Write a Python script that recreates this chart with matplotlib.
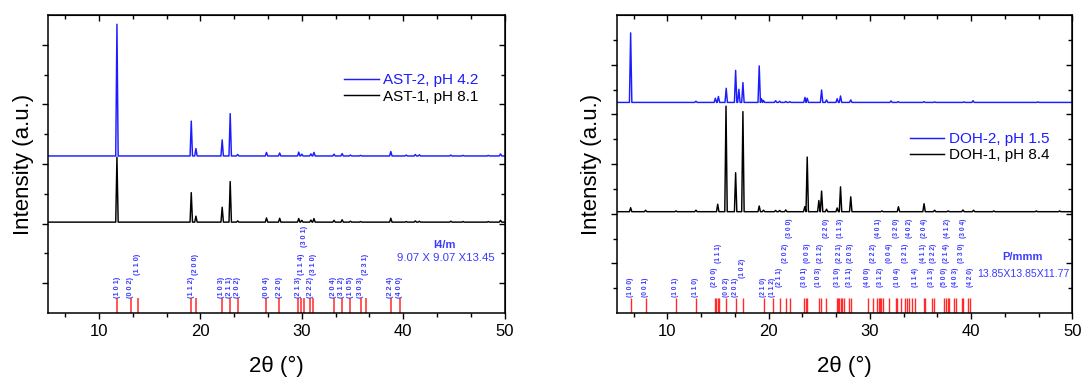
import matplotlib
matplotlib.use("Agg")
import matplotlib.pyplot as plt
from matplotlib.ticker import AutoMinorLocator, FixedLocator

plt.rcParams['font.family'] = ['Liberation Sans', 'DejaVu Sans']

# ---- left panel: AST ----
ast_pos = [11.77, 19.10, 19.56, 22.15, 22.94, 23.68, 26.52, 27.82, 29.70, 30.00, 30.90, 31.20,
           33.18, 33.98, 34.80, 35.80, 38.78, 40.30, 41.20, 41.60, 44.70, 45.90, 48.40, 49.60]
ast2_h = [4.42, 1.17, 0.25, 0.54, 1.42, 0.05, 0.12, 0.10, 0.13, 0.06, 0.07, 0.12,
          0.06, 0.08, 0.03, 0.02, 0.15, 0.03, 0.05, 0.04, 0.03, 0.02, 0.02, 0.07]
ast1_h = [2.18, 0.99, 0.20, 0.50, 1.36, 0.04, 0.14, 0.13, 0.12, 0.06, 0.07, 0.12,
          0.06, 0.08, 0.03, 0.02, 0.13, 0.02, 0.04, 0.03, 0.03, 0.02, 0.02, 0.06]
ast2_base = 5.27
ast1_base = 3.05

ast_sticks = [11.79, 13.15, 13.81, 19.12, 19.55, 22.13, 22.91, 23.67, 26.52, 27.78, 29.65, 29.97,
              30.23, 30.82, 31.15, 33.16, 33.96, 34.78, 35.80, 36.29, 38.76, 39.68]
ast_hkl = ['101', '002', '110', '112', '200', '103', '211', '202', '004', '220', '213', '114',
           '301', '222', '310', '204', '312', '105', '303', '231', '224', '400']
ast_tier = [0, 0, 1, 0, 1, 0, 0, 0, 0, 0, 0, 1, 2, 0, 1, 0, 0, 0, 0, 1, 0, 0]

# ---- right panel: DOH ----
doh2_pos = [6.38, 12.83, 14.75, 15.05, 15.82, 16.75, 17.07, 17.47, 19.08, 19.30, 19.50, 20.70,
            21.10, 21.70, 22.10, 23.60, 23.82, 25.24, 25.73, 26.78, 27.11, 28.12, 32.10, 32.80,
            35.35, 36.40, 39.30, 40.20, 46.60]
doh2_h = [2.80, 0.05, 0.17, 0.24, 0.57, 1.29, 0.53, 0.80, 1.47, 0.15, 0.08, 0.07,
          0.05, 0.04, 0.03, 0.20, 0.17, 0.50, 0.10, 0.15, 0.26, 0.10, 0.06, 0.03,
          0.03, 0.02, 0.02, 0.07, 0.02]
doh1_pos = [6.38, 7.86, 10.86, 12.83, 14.98, 15.80, 16.75, 17.47, 19.08, 19.50, 20.70, 21.10,
            21.70, 23.58, 23.82, 24.97, 25.24, 25.73, 26.78, 27.11, 28.12, 31.20, 32.83, 35.36,
            36.40, 37.75, 39.20, 40.25, 42.25, 46.45, 48.75]
doh1_h = [0.16, 0.06, 0.03, 0.06, 0.30, 4.25, 1.57, 4.03, 0.23, 0.06, 0.05, 0.05,
          0.07, 0.20, 2.20, 0.45, 0.83, 0.10, 0.15, 1.00, 0.60, 0.03, 0.20, 0.32,
          0.06, 0.03, 0.07, 0.06, 0.03, 0.03, 0.03]
doh2_base = 8.48
doh1_base = 4.08

doh_sticks = [6.38, 7.86, 10.86, 12.83, 14.71, 14.84, 14.97, 15.10, 15.80, 16.75, 17.47, 19.55,
              20.40, 21.13, 21.69, 22.12, 23.53, 23.66, 23.80, 24.95, 25.18, 25.71, 26.73, 26.83,
              26.96, 27.12, 27.29, 27.45, 27.98, 28.14, 29.79, 30.35, 30.74, 30.88, 31.01, 31.14,
              31.30, 31.90, 32.59, 32.72, 33.05, 33.51, 33.71, 33.91, 34.17, 34.47, 35.32, 35.45,
              36.14, 36.31, 37.36, 37.53, 37.69, 37.86, 38.32, 38.48, 39.07, 39.24, 39.73, 39.90]
doh_hkl = ['100', '001', '101', '110', '200', '', '', '111', '002', '201', '102', '210',
           '112', '211', '202', '300', '301', '', '003', '103', '212', '220', '', '310',
           '221', '113', '', '', '311', '203', '400', '222', '', '401', '312', '',
           '', '004', '320', '104', '', '321', '', '402', '', '114', '411', '204',
           '313', '322', '500', '214', '412', '', '', '403', '330', '304', '', '420']
doh_tier = [0, 0, 0, 0, 1, 0, 0, 2, 0, 0, 1.5, 0,
            0, 1, 2, 3, 1, 0, 2, 1, 2, 3, 0, 1,
            2, 3, 0, 0, 1, 2, 1, 2, 0, 3, 1, 0,
            0, 2, 3, 1, 0, 2, 0, 3, 0, 1, 2, 3,
            1, 2, 1, 2, 3, 0, 0, 1, 2, 3, 0, 1]

BLUE = '#1c1cff'
LBLUE = '#3b3bff'
RED = '#ff2a2a'


def profile(pos, height, base, w=0.12):
    xs, ys = [5.0], [base]
    for p, h in sorted(zip(pos, height)):
        xs += [p - w, p, p + w]
        ys += [base, base + h, base]
    xs.append(50.0)
    ys.append(base)
    return xs, ys


def style_axes(ax, ymax, ymaj, ymin):
    ax.set_xlim(5, 50)
    ax.set_ylim(0, ymax)
    ax.set_xticks([10, 20, 30, 40, 50])
    ax.xaxis.set_minor_locator(AutoMinorLocator(3))
    ax.yaxis.set_major_locator(FixedLocator(ymaj))
    ax.yaxis.set_minor_locator(FixedLocator(ymin))
    ax.tick_params(which='major', direction='out', length=4.2, width=1.0, labelsize=12, pad=3.5)
    ax.tick_params(which='minor', direction='out', length=2.6, width=1.0)
    ax.tick_params(axis='y', labelleft=False)
    for s in ax.spines.values():
        s.set_linewidth(1.1)
    top = ax.secondary_xaxis('top')
    top.set_xticks([10, 20, 30, 40, 50])
    top.xaxis.set_minor_locator(AutoMinorLocator(3))
    top.tick_params(which='major', direction='in', length=4.2, width=1.0, labeltop=False)
    top.tick_params(which='minor', direction='in', length=2.6, width=1.0)
    right = ax.secondary_yaxis('right')
    right.yaxis.set_major_locator(FixedLocator(ymaj))
    right.yaxis.set_minor_locator(FixedLocator(ymin))
    right.tick_params(which='major', direction='in', length=4.2, width=1.0, labelright=False)
    right.tick_params(which='minor', direction='in', length=2.6, width=1.0)
    ax.set_xlabel('2θ (°)', fontsize=16)
    ax.set_ylabel('Intensity (a.u.)', fontsize=16)
    ax.xaxis.set_label_coords(0.5, -0.145)
    ax.yaxis.set_label_coords(-0.032, 0.5)


fig = plt.figure(figsize=(10.83, 3.79), dpi=100)
ax1 = fig.add_axes([0.0446, 0.1741, 0.4213, 0.7863])
ax2 = fig.add_axes([0.5694, 0.1741, 0.4207, 0.7863])

# left
x, y = profile(ast_pos, ast2_h, ast2_base)
ax1.plot(x, y, color=BLUE, lw=1.05, label='AST-2, pH 4.2')
x, y = profile(ast_pos, ast1_h, ast1_base)
ax1.plot(x, y, color='black', lw=1.05, label='AST-1, pH 8.1')
ax1.vlines(ast_sticks, 0, 0.5, color=RED, lw=1.1)
tier_y1 = {0: 0.52, 1: 1.27, 2: 2.22}
for xs, hkl, t in zip(ast_sticks, ast_hkl, ast_tier):
    ax1.text(xs, tier_y1[t], '(' + ' '.join(hkl) + ')', rotation=90, ha='center', va='bottom',
             fontsize=5.2, fontweight='bold', color=LBLUE)
ax1.text(44.05, 2.28, 'I4/m', ha='center', va='center', fontsize=8, fontweight='bold', color=LBLUE)
ax1.text(44.25, 1.83, '9.07 X 9.07 X13.45', ha='center', va='center', fontsize=8.2, color=LBLUE)
style_axes(ax1, 10, [1, 3, 5, 7, 9], [2, 4, 6, 8])
ax1.legend(loc='center left', bbox_to_anchor=(0.649, 0.753), frameon=False, fontsize=11,
           borderpad=0, borderaxespad=0, handlelength=2.25, handletextpad=0.3,
           labelspacing=0.15, labelcolor=[BLUE, 'black'])

# right
x, y = profile(doh2_pos, doh2_h, doh2_base)
ax2.plot(x, y, color=BLUE, lw=1.05, label='DOH-2, pH 1.5')
x, y = profile(doh1_pos, doh1_h, doh1_base)
ax2.plot(x, y, color='black', lw=1.05, label='DOH-1, pH 8.4')
ax2.vlines(doh_sticks, 0, 0.59, color=RED, lw=1.0)
tier_y2 = {0: 0.66, 1: 1.05, 1.5: 1.41, 2: 2.03, 3: 3.02}
for xs, hkl, t in zip(doh_sticks, doh_hkl, doh_tier):
    if hkl:
        ax2.text(xs, tier_y2[t], '(' + ' '.join(hkl) + ')', rotation=90, ha='center', va='bottom',
                 fontsize=4.8, fontweight='bold', color=LBLUE)
ax2.text(45.07, 2.24, 'P/mmm', ha='center', va='center', fontsize=8, fontweight='bold', color=LBLUE)
ax2.text(45.2, 1.56, '13.85X13.85X11.77', ha='center', va='center', fontsize=7.6, color=LBLUE)
style_axes(ax2, 12, [2, 4, 6, 8, 10], [1, 3, 5, 7, 9, 11])
ax2.legend(loc='center left', bbox_to_anchor=(0.643, 0.556), frameon=False, fontsize=11,
           borderpad=0, borderaxespad=0, handlelength=2.25, handletextpad=0.3,
           labelspacing=0.15, labelcolor=[BLUE, 'black'])

fig.savefig('out.png', dpi=100)
